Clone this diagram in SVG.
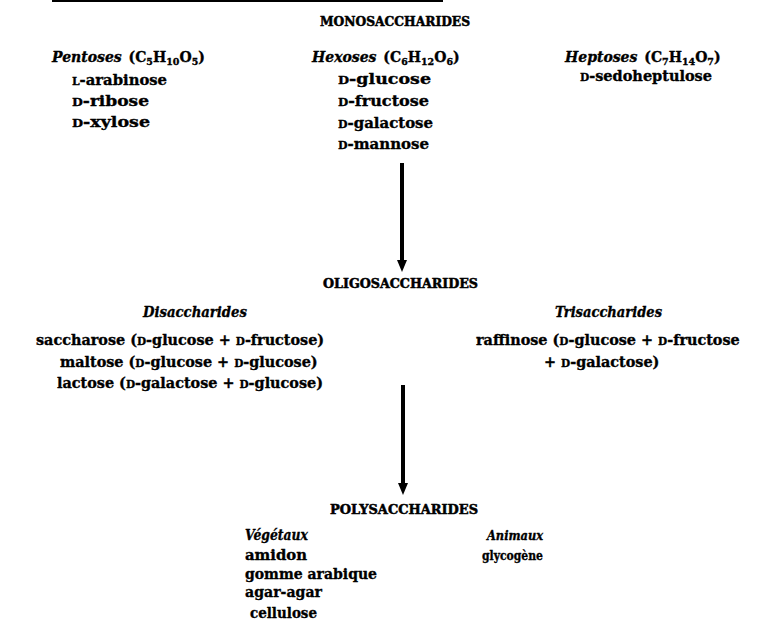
<svg xmlns="http://www.w3.org/2000/svg" width="757" height="643" viewBox="0 0 757 643">
<style>
text { font-family: "DejaVu Serif", "Liberation Serif", serif; font-weight: bold; font-size: 15px; fill: #000; stroke: #000; stroke-width: 0.35px; }
.head { font-size: 12px; stroke-width: 0.5px; }
.it { font-style: italic; }
.sc { font-size: 11px; }
.sub { font-size: 9.5px; }
.form { font-size: 14px; }
.mid { font-size: 14.4px; }
.mid .sc { font-size: 10.5px; }
.conn { stroke: #000; stroke-width: 4; fill: none; }
</style>
<defs>
<marker id="ah" viewBox="0 0 12 10" refX="0" refY="5" markerWidth="12" markerHeight="10" markerUnits="userSpaceOnUse" orient="auto">
<path d="M0,0 L12,5 L0,10 z" fill="#000"/>
</marker>
</defs>
<rect width="757" height="643" fill="#fff"/>
<line x1="52" y1="1" x2="443" y2="1" stroke="#000" stroke-width="2"/>

<g id="monosaccharides">
<text class="head" x="320" y="26" textLength="150" lengthAdjust="spacingAndGlyphs">MONOSACCHARIDES</text>
</g>
<g id="pentoses">
<text class="form" x="52" y="62"><tspan class="it">Pentoses</tspan><tspan dx="2"> (C</tspan><tspan class="sub" dy="3">5</tspan><tspan dy="-3">H</tspan><tspan class="sub" dy="3">10</tspan><tspan dy="-3">O</tspan><tspan class="sub" dy="3">5</tspan><tspan dy="-3">)</tspan></text>
<text x="72" y="85" textLength="95" lengthAdjust="spacingAndGlyphs"><tspan class="sc">L</tspan>-arabinose</text>
<text x="72" y="106" textLength="77" lengthAdjust="spacingAndGlyphs"><tspan class="sc">D</tspan>-ribose</text>
<text x="72" y="127" textLength="78" lengthAdjust="spacingAndGlyphs"><tspan class="sc">D</tspan>-xylose</text>
</g>
<g id="hexoses">
<text class="form" x="312" y="62"><tspan class="it">Hexoses</tspan><tspan dx="2"> (C</tspan><tspan class="sub" dy="3">6</tspan><tspan dy="-3">H</tspan><tspan class="sub" dy="3">12</tspan><tspan dy="-3">O</tspan><tspan class="sub" dy="3">6</tspan><tspan dy="-3">)</tspan></text>
<text x="338" y="84" textLength="93" lengthAdjust="spacingAndGlyphs"><tspan class="sc">D</tspan>-glucose</text>
<text x="338" y="106" textLength="91" lengthAdjust="spacingAndGlyphs"><tspan class="sc">D</tspan>-fructose</text>
<text x="338" y="128" textLength="95" lengthAdjust="spacingAndGlyphs"><tspan class="sc">D</tspan>-galactose</text>
<text x="338" y="149" textLength="91" lengthAdjust="spacingAndGlyphs"><tspan class="sc">D</tspan>-mannose</text>
</g>
<g id="heptoses">
<text class="form" x="565" y="62"><tspan class="it">Heptoses</tspan><tspan dx="2"> (C</tspan><tspan class="sub" dy="3">7</tspan><tspan dy="-3">H</tspan><tspan class="sub" dy="3">14</tspan><tspan dy="-3">O</tspan><tspan class="sub" dy="3">7</tspan><tspan dy="-3">)</tspan></text>
<text x="580" y="81" textLength="132" lengthAdjust="spacingAndGlyphs"><tspan class="sc">D</tspan>-sedoheptulose</text>
</g>

<g id="oligosaccharides">
<text class="head" x="323" y="288" textLength="155" lengthAdjust="spacingAndGlyphs">OLIGOSACCHARIDES</text>
</g>
<g id="disaccharides">
<text class="it" x="143" y="317" textLength="104" lengthAdjust="spacingAndGlyphs">Disaccharides</text>
<text class="mid" x="36" y="345">saccharose (<tspan class="sc">D</tspan>-glucose + <tspan class="sc">D</tspan>-fructose)</text>
<text class="mid" x="60" y="367">maltose (<tspan class="sc">D</tspan>-glucose + <tspan class="sc">D</tspan>-glucose)</text>
<text class="mid" x="57" y="388">lactose (<tspan class="sc">D</tspan>-galactose + <tspan class="sc">D</tspan>-glucose)</text>
</g>
<g id="trisaccharides">
<text class="it" x="555" y="317" textLength="107" lengthAdjust="spacingAndGlyphs">Trisaccharides</text>
<text class="mid" x="476" y="345">raffinose (<tspan class="sc">D</tspan>-glucose + <tspan class="sc">D</tspan>-fructose</text>
<text class="mid" x="544" y="367">+ <tspan class="sc">D</tspan>-galactose)</text>
</g>

<g id="polysaccharides">
<text class="head" x="330" y="514" textLength="148" lengthAdjust="spacingAndGlyphs">POLYSACCHARIDES</text>
</g>
<g id="vegetaux">
<text class="it" x="245" y="540" textLength="63" lengthAdjust="spacingAndGlyphs">Végétaux</text>
<text x="245" y="560" textLength="62" lengthAdjust="spacingAndGlyphs">amidon</text>
<text x="245" y="579" textLength="132" lengthAdjust="spacingAndGlyphs">gomme arabique</text>
<text x="245" y="597" textLength="77" lengthAdjust="spacingAndGlyphs">agar-agar</text>
<text x="250" y="618" textLength="67" lengthAdjust="spacingAndGlyphs">cellulose</text>
</g>
<g id="animaux">
<text class="it" x="487" y="540" style="font-size:12.5px" textLength="56" lengthAdjust="spacingAndGlyphs">Animaux</text>
<text x="482" y="560" style="font-size:13px" textLength="61" lengthAdjust="spacingAndGlyphs">glycogène</text>
</g>

<g id="connectors">
<line class="conn" x1="402" y1="163" x2="402" y2="260" marker-end="url(#ah)"/>
<line class="conn" x1="403" y1="385" x2="403" y2="483" marker-end="url(#ah)"/>
</g>
</svg>
